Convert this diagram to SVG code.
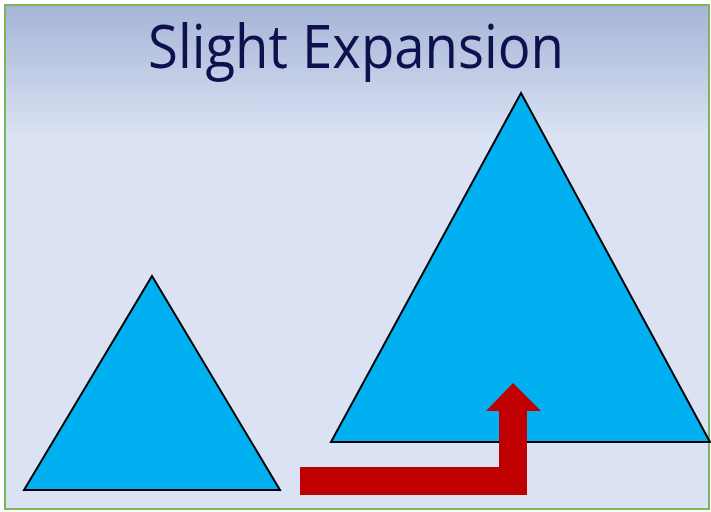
<svg xmlns="http://www.w3.org/2000/svg" width="711" height="512" viewBox="0 0 711 512">
<defs>
<linearGradient id="bg" x1="0" y1="0" x2="0" y2="1" gradientUnits="objectBoundingBox">
<stop offset="0" stop-color="#a6b5d7"/>
<stop offset="0.26" stop-color="#dae2f3"/>
<stop offset="1" stop-color="#dae2f3"/>
</linearGradient>
<style>
.tri{fill:#00b0f0;stroke:#000;stroke-width:2;stroke-linejoin:miter}
.arrow{fill:#c00000}
.title{font-family:"Open Sans","Liberation Sans",sans-serif;font-size:60px;fill:#10104f}
</style>
</defs>
<rect x="0" y="0" width="711" height="512" fill="#ffffff"/>
<rect x="5" y="5" width="704" height="504" fill="url(#bg)" stroke="#7cb55a" stroke-width="2"/>
<text class="title" x="356" y="68" text-anchor="middle" textLength="416" lengthAdjust="spacingAndGlyphs">Slight Expansion</text>
<g id="small-triangle">
<polygon class="tri" points="152,276 280,490 24,490"/>
</g>
<g id="large-triangle">
<polygon class="tri" points="521,93 710,442 331,442"/>
</g>
<g id="connectors">
<polygon class="arrow" points="300,467 499,467 499,411 486,411 513,383 541,411 527,411 527,495 300,495"/>
</g>
</svg>
